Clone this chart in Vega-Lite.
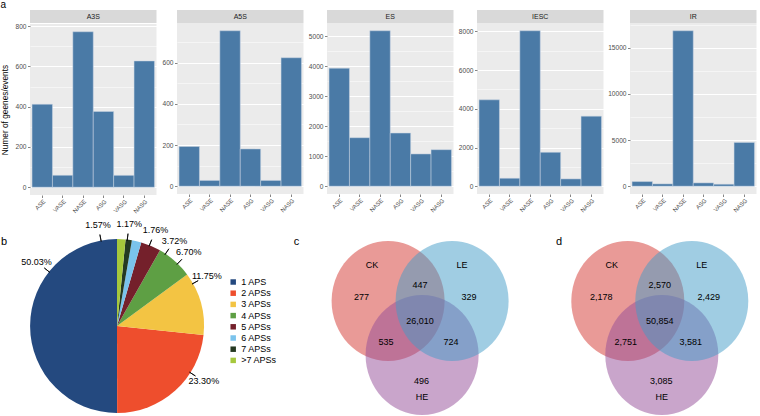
{
  "$schema": "https://vega.github.io/schema/vega-lite/v6.json",
  "padding": 0,
  "background": "white",
  "title": {"text": "a", "anchor": "start", "frame": "bounds", "fontSize": 10, "fontWeight": "normal", "color": "#000000", "offset": 0},
  "config": {
    "font": "Liberation Sans",
    "view": {"stroke": null},
    "axis": {"domain": false, "labelColor": "#4D4D4D", "tickColor": "#333333", "tickSize": 2.5, "tickWidth": 0.6, "labelFontSize": 6.6, "gridColor": "#FFFFFF", "labelPadding": 1.5, "titleFontWeight": "normal", "titleColor": "#000000"}
  },
  "resolve": {"scale": {"color": "independent"}, "legend": {"color": "independent"}},
  "datasets": {
    "bars": [
      {"panel": "A3S", "type": "ASE", "count": 412},
      {"panel": "A3S", "type": "VASE", "count": 59},
      {"panel": "A3S", "type": "NASE", "count": 772},
      {"panel": "A3S", "type": "ASG", "count": 376},
      {"panel": "A3S", "type": "VASG", "count": 59},
      {"panel": "A3S", "type": "NASG", "count": 627},
      {"panel": "A5S", "type": "ASE", "count": 193},
      {"panel": "A5S", "type": "VASE", "count": 28},
      {"panel": "A5S", "type": "NASE", "count": 755},
      {"panel": "A5S", "type": "ASG", "count": 181},
      {"panel": "A5S", "type": "VASG", "count": 28},
      {"panel": "A5S", "type": "NASG", "count": 624},
      {"panel": "ES", "type": "ASE", "count": 3929},
      {"panel": "ES", "type": "VASE", "count": 1616},
      {"panel": "ES", "type": "NASE", "count": 5177},
      {"panel": "ES", "type": "ASG", "count": 1771},
      {"panel": "ES", "type": "VASG", "count": 1075},
      {"panel": "ES", "type": "NASG", "count": 1217},
      {"panel": "IESC", "type": "ASE", "count": 4464},
      {"panel": "IESC", "type": "VASE", "count": 412},
      {"panel": "IESC", "type": "NASE", "count": 8033},
      {"panel": "IESC", "type": "ASG", "count": 1751},
      {"panel": "IESC", "type": "VASG", "count": 378},
      {"panel": "IESC", "type": "NASG", "count": 3621},
      {"panel": "IR", "type": "ASE", "count": 504},
      {"panel": "IR", "type": "VASE", "count": 252},
      {"panel": "IR", "type": "NASE", "count": 16835},
      {"panel": "IR", "type": "ASG", "count": 360},
      {"panel": "IR", "type": "VASG", "count": 216},
      {"panel": "IR", "type": "NASG", "count": 4748}
    ],
    "pie": [
      {"label": "1 APS", "value": 50.03, "pct": "50.03%", "la": 308.6},
      {"label": "2 APSs", "value": 23.30, "pct": "23.30%", "la": 122.5},
      {"label": "3 APSs", "value": 11.75, "pct": "11.75%", "la": 60.8},
      {"label": "4 APSs", "value": 6.70, "pct": "6.70%", "la": 44.2},
      {"label": "5 APSs", "value": 3.72, "pct": "3.72%", "la": 33.9},
      {"label": "6 APSs", "value": 1.76, "pct": "1.76%", "la": 21.9},
      {"label": "7 APSs", "value": 1.17, "pct": "1.17%", "la": 6.8},
      {"label": ">7 APSs", "value": 1.57, "pct": "1.57%", "la": 349.4}
    ],
    "vennCircles": [
      {"set": "CK", "cx": 148.4, "cy": 65},
      {"set": "HE", "cx": 182.4, "cy": 119},
      {"set": "LE", "cx": 212.4, "cy": 65}
    ],
    "vennC": [
      {"label": "CK", "x": 132.4, "y": 29},
      {"label": "LE", "x": 222.4, "y": 29},
      {"label": "HE", "x": 182.4, "y": 161},
      {"label": "277", "x": 121.9, "y": 61.3},
      {"label": "447", "x": 180.4, "y": 49},
      {"label": "329", "x": 229.4, "y": 61.3},
      {"label": "26,010", "x": 180.4, "y": 85},
      {"label": "535", "x": 146.4, "y": 106.3},
      {"label": "724", "x": 211.4, "y": 106.3},
      {"label": "496", "x": 181.9, "y": 144.6}
    ],
    "vennD": [
      {"label": "CK", "x": 132.4, "y": 29},
      {"label": "LE", "x": 222.4, "y": 29},
      {"label": "HE", "x": 182.4, "y": 161},
      {"label": "2,178", "x": 121.9, "y": 61.3},
      {"label": "2,570", "x": 180.4, "y": 49},
      {"label": "2,429", "x": 229.4, "y": 61.3},
      {"label": "50,854", "x": 180.4, "y": 85},
      {"label": "2,751", "x": 146.4, "y": 106.3},
      {"label": "3,581", "x": 211.4, "y": 106.3},
      {"label": "3,085", "x": 181.9, "y": 144.6}
    ]
  },
  "vconcat": [
    {
      "spacing": 0,
      "hconcat": [
        {
          "spacing": 0,
          "vconcat": [
            {"width": 126.5, "height": 13, "view": {"fill": "#D9D9D9", "stroke": null}, "data": {"values": [{"panel": "A3S"}]}, "mark": {"type": "text", "fontSize": 7, "color": "#1A1A1A"}, "encoding": {"text": {"field": "panel"}}},
            {"width": 126.5, "height": 171, "view": {"fill": "#EBEBEB", "stroke": null}, "data": {"name": "bars"}, "transform": [{"filter": "datum.panel === 'A3S'"}],
             "mark": {"type": "bar", "color": "#4A7AA6", "stroke": "#C9D5E2", "strokeWidth": 0.5},
             "encoding": {
               "x": {"field": "type", "type": "nominal", "sort": ["ASE", "VASE", "NASE", "ASG", "VASG", "NASG"], "scale": {"paddingInner": 0, "paddingOuter": 0.1}, "axis": {"title": null, "labelAngle": -45, "labelAlign": "right", "labelBaseline": "top", "bandPosition": 0.5, "gridWidth": 1.1, "labelFontSize": 5.9, "labelPadding": 0.5}},
               "y": {"field": "count", "type": "quantitative", "scale": {"domain": [-38.6, 810.6], "nice": false, "zero": false}, "axis": {"title": "Numer of geenes/events", "titleFontSize": 8.3, "titlePadding": 3, "format": "d", "values": [0, 100, 200, 300, 400, 500, 600, 700, 800], "labelExpr": "datum.value % 200 === 0 ? datum.label : ''", "gridWidth": {"condition": {"test": "datum.value % 200 === 0", "value": 1.1}, "value": 0.5}, "tickOpacity": {"condition": {"test": "datum.value % 200 === 0", "value": 1}, "value": 0}, "minExtent": 17.5, "maxExtent": 17.5}}
             }}
          ]
        },
        {
          "spacing": 0,
          "vconcat": [
            {"width": 126.5, "height": 13, "view": {"fill": "#D9D9D9", "stroke": null}, "data": {"values": [{"panel": "A5S"}]}, "mark": {"type": "text", "fontSize": 7, "color": "#1A1A1A"}, "encoding": {"text": {"field": "panel"}}},
            {"width": 126.5, "height": 171, "view": {"fill": "#EBEBEB", "stroke": null}, "data": {"name": "bars"}, "transform": [{"filter": "datum.panel === 'A5S'"}],
             "mark": {"type": "bar", "color": "#4A7AA6", "stroke": "#C9D5E2", "strokeWidth": 0.5},
             "encoding": {
               "x": {"field": "type", "type": "nominal", "sort": ["ASE", "VASE", "NASE", "ASG", "VASG", "NASG"], "scale": {"paddingInner": 0, "paddingOuter": 0.1}, "axis": {"title": null, "labelAngle": -45, "labelAlign": "right", "labelBaseline": "top", "bandPosition": 0.5, "gridWidth": 1.1, "labelFontSize": 5.9, "labelPadding": 0.5}},
               "y": {"field": "count", "type": "quantitative", "scale": {"domain": [-37.75, 792.75], "nice": false, "zero": false}, "axis": {"title": null, "format": "d", "values": [0, 100, 200, 300, 400, 500, 600, 700], "labelExpr": "datum.value % 200 === 0 ? datum.label : ''", "gridWidth": {"condition": {"test": "datum.value % 200 === 0", "value": 1.1}, "value": 0.5}, "tickOpacity": {"condition": {"test": "datum.value % 200 === 0", "value": 1}, "value": 0}, "minExtent": 19.5, "maxExtent": 19.5}}
             }}
          ]
        },
        {
          "spacing": 0,
          "vconcat": [
            {"width": 126.5, "height": 13, "view": {"fill": "#D9D9D9", "stroke": null}, "data": {"values": [{"panel": "ES"}]}, "mark": {"type": "text", "fontSize": 7, "color": "#1A1A1A"}, "encoding": {"text": {"field": "panel"}}},
            {"width": 126.5, "height": 171, "view": {"fill": "#EBEBEB", "stroke": null}, "data": {"name": "bars"}, "transform": [{"filter": "datum.panel === 'ES'"}],
             "mark": {"type": "bar", "color": "#4A7AA6", "stroke": "#C9D5E2", "strokeWidth": 0.5},
             "encoding": {
               "x": {"field": "type", "type": "nominal", "sort": ["ASE", "VASE", "NASE", "ASG", "VASG", "NASG"], "scale": {"paddingInner": 0, "paddingOuter": 0.1}, "axis": {"title": null, "labelAngle": -45, "labelAlign": "right", "labelBaseline": "top", "bandPosition": 0.5, "gridWidth": 1.1, "labelFontSize": 5.9, "labelPadding": 0.5}},
               "y": {"field": "count", "type": "quantitative", "scale": {"domain": [-258.85, 5435.85], "nice": false, "zero": false}, "axis": {"title": null, "format": "d", "values": [0, 500, 1000, 1500, 2000, 2500, 3000, 3500, 4000, 4500, 5000], "labelExpr": "datum.value % 1000 === 0 ? datum.label : ''", "gridWidth": {"condition": {"test": "datum.value % 1000 === 0", "value": 1.1}, "value": 0.5}, "tickOpacity": {"condition": {"test": "datum.value % 1000 === 0", "value": 1}, "value": 0}, "minExtent": 23, "maxExtent": 23}}
             }}
          ]
        },
        {
          "spacing": 0,
          "vconcat": [
            {"width": 126.5, "height": 13, "view": {"fill": "#D9D9D9", "stroke": null}, "data": {"values": [{"panel": "IESC"}]}, "mark": {"type": "text", "fontSize": 7, "color": "#1A1A1A"}, "encoding": {"text": {"field": "panel"}}},
            {"width": 126.5, "height": 171, "view": {"fill": "#EBEBEB", "stroke": null}, "data": {"name": "bars"}, "transform": [{"filter": "datum.panel === 'IESC'"}],
             "mark": {"type": "bar", "color": "#4A7AA6", "stroke": "#C9D5E2", "strokeWidth": 0.5},
             "encoding": {
               "x": {"field": "type", "type": "nominal", "sort": ["ASE", "VASE", "NASE", "ASG", "VASG", "NASG"], "scale": {"paddingInner": 0, "paddingOuter": 0.1}, "axis": {"title": null, "labelAngle": -45, "labelAlign": "right", "labelBaseline": "top", "bandPosition": 0.5, "gridWidth": 1.1, "labelFontSize": 5.9, "labelPadding": 0.5}},
               "y": {"field": "count", "type": "quantitative", "scale": {"domain": [-401.65, 8434.65], "nice": false, "zero": false}, "axis": {"title": null, "format": "d", "values": [0, 1000, 2000, 3000, 4000, 5000, 6000, 7000, 8000], "labelExpr": "datum.value % 2000 === 0 ? datum.label : ''", "gridWidth": {"condition": {"test": "datum.value % 2000 === 0", "value": 1.1}, "value": 0.5}, "tickOpacity": {"condition": {"test": "datum.value % 2000 === 0", "value": 1}, "value": 0}, "minExtent": 23, "maxExtent": 23}}
             }}
          ]
        },
        {
          "spacing": 0,
          "vconcat": [
            {"width": 126.5, "height": 13, "view": {"fill": "#D9D9D9", "stroke": null}, "data": {"values": [{"panel": "IR"}]}, "mark": {"type": "text", "fontSize": 7, "color": "#1A1A1A"}, "encoding": {"text": {"field": "panel"}}},
            {"width": 126.5, "height": 171, "view": {"fill": "#EBEBEB", "stroke": null}, "data": {"name": "bars"}, "transform": [{"filter": "datum.panel === 'IR'"}],
             "mark": {"type": "bar", "color": "#4A7AA6", "stroke": "#C9D5E2", "strokeWidth": 0.5},
             "encoding": {
               "x": {"field": "type", "type": "nominal", "sort": ["ASE", "VASE", "NASE", "ASG", "VASG", "NASG"], "scale": {"paddingInner": 0, "paddingOuter": 0.1}, "axis": {"title": null, "labelAngle": -45, "labelAlign": "right", "labelBaseline": "top", "bandPosition": 0.5, "gridWidth": 1.1, "labelFontSize": 5.9, "labelPadding": 0.5}},
               "y": {"field": "count", "type": "quantitative", "scale": {"domain": [-841.75, 17676.75], "nice": false, "zero": false}, "axis": {"title": null, "format": "d", "values": [0, 2500, 5000, 7500, 10000, 12500, 15000, 17500], "labelExpr": "datum.value % 5000 === 0 ? datum.label : ''", "gridWidth": {"condition": {"test": "datum.value % 5000 === 0", "value": 1.1}, "value": 0.5}, "tickOpacity": {"condition": {"test": "datum.value % 5000 === 0", "value": 1}, "value": 0}, "minExtent": 25.5, "maxExtent": 25.5}}
             }}
          ]
        }
      ]
    },
    {
      "spacing": 35.7,
      "bounds": "flush",
      "resolve": {"scale": {"color": "independent"}, "legend": {"color": "independent"}},
      "hconcat": [
        {
          "width": 174, "height": 180, "view": {"stroke": null},
          "layer": [
            {"data": {"name": "pie"},
             "mark": {"type": "arc", "outerRadius": 87},
             "encoding": {
               "theta": {"field": "value", "type": "quantitative", "stack": true},
               "order": {"field": "label", "type": "ordinal", "sort": "descending"},
               "color": {"field": "label", "type": "nominal",
                 "scale": {"domain": ["1 APS", "2 APSs", "3 APSs", "4 APSs", "5 APSs", "6 APSs", "7 APSs", ">7 APSs"], "range": ["#24497F", "#EE4E2D", "#F3C443", "#5E9F44", "#74202B", "#7AC3EC", "#253922", "#A6C83C"]},
                 "legend": {"orient": "none", "legendX": 198.7, "legendY": 41.5, "title": null, "symbolType": "square", "symbolSize": 30, "symbolStrokeWidth": 0, "labelFontSize": 9, "labelColor": "#000000", "rowPadding": 1.2, "labelOffset": 3.5}}
             }},
            {"data": {"name": "pie"},
             "mark": {"type": "arc", "innerRadius": 86, "outerRadius": 93, "filled": false, "color": "#000000", "strokeWidth": 0.8},
             "encoding": {
               "theta": {"field": "la", "type": "quantitative", "stack": false, "scale": {"domain": [0, 360], "range": [0, 6.283185]}},
               "theta2": {"field": "la"}
             }},
            {"data": {"name": "pie"},
             "mark": {"type": "text", "radius": 103, "fontSize": 9, "color": "#000000"},
             "encoding": {
               "theta": {"field": "la", "type": "quantitative", "stack": false, "scale": {"domain": [0, 360], "range": [0, 6.283185]}},
               "text": {"field": "pct"}
             }},
            {"data": {"values": [{"letter": "b"}]},
             "mark": {"type": "text", "fontSize": 11, "color": "#000000", "align": "left", "baseline": "alphabetic"},
             "encoding": {
               "x": {"datum": -29, "type": "quantitative", "scale": {"domain": [0, 174], "nice": false, "zero": false}, "axis": null},
               "y": {"datum": 9, "type": "quantitative", "scale": {"domain": [0, 180], "reverse": true, "nice": false, "zero": false}, "axis": null},
               "text": {"field": "letter"}
             }}
          ],
          "resolve": {"scale": {"theta": "independent"}}
        },
        {
          "width": 203.8, "height": 180, "view": {"stroke": null},
          "layer": [
            {"data": {"name": "vennCircles"},
             "mark": {"type": "point", "filled": true, "opacity": 0.5, "strokeWidth": 0, "size": 12769, "shape": "M1,0C1,0.5865,0.5523,1.062,0,1.062C-0.5523,1.062,-1,0.5865,-1,0C-1,-0.5865,-0.5523,-1.062,0,-1.062C0.5523,-1.062,1,-0.5865,1,0Z"},
             "encoding": {
               "x": {"field": "cx", "type": "quantitative", "scale": {"domain": [0, 203.8], "nice": false, "zero": false}, "axis": null},
               "y": {"field": "cy", "type": "quantitative", "scale": {"domain": [0, 180], "reverse": true, "nice": false, "zero": false}, "axis": null},
               "color": {"field": "set", "type": "nominal", "scale": {"domain": ["CK", "HE", "LE"], "range": ["#D3352F", "#934B97", "#419BC7"]}, "legend": null}
             }},
            {"data": {"name": "vennC"},
             "mark": {"type": "text", "fontSize": 9, "color": "#000000"},
             "encoding": {
               "x": {"field": "x", "type": "quantitative"},
               "y": {"field": "y", "type": "quantitative"},
               "text": {"field": "label"}
             }},
            {"data": {"values": [{"letter": "c"}]},
             "mark": {"type": "text", "fontSize": 11, "color": "#000000", "align": "left", "baseline": "alphabetic"},
             "encoding": {
               "x": {"datum": 54, "type": "quantitative"},
               "y": {"datum": 9, "type": "quantitative"},
               "text": {"field": "letter"}
             }}
          ]
        },
        {
          "width": 281.5, "height": 180, "view": {"stroke": null},
          "layer": [
            {"data": {"name": "vennCircles"},
             "mark": {"type": "point", "filled": true, "opacity": 0.5, "strokeWidth": 0, "size": 12769, "shape": "M1,0C1,0.5865,0.5523,1.062,0,1.062C-0.5523,1.062,-1,0.5865,-1,0C-1,-0.5865,-0.5523,-1.062,0,-1.062C0.5523,-1.062,1,-0.5865,1,0Z"},
             "encoding": {
               "x": {"field": "cx", "type": "quantitative", "scale": {"domain": [0, 281.5], "nice": false, "zero": false}, "axis": null},
               "y": {"field": "cy", "type": "quantitative", "scale": {"domain": [0, 180], "reverse": true, "nice": false, "zero": false}, "axis": null},
               "color": {"field": "set", "type": "nominal", "scale": {"domain": ["CK", "HE", "LE"], "range": ["#D3352F", "#934B97", "#419BC7"]}, "legend": null}
             }},
            {"data": {"name": "vennD"},
             "mark": {"type": "text", "fontSize": 9, "color": "#000000"},
             "encoding": {
               "x": {"field": "x", "type": "quantitative"},
               "y": {"field": "y", "type": "quantitative"},
               "text": {"field": "label"}
             }},
            {"data": {"values": [{"letter": "d"}]},
             "mark": {"type": "text", "fontSize": 11, "color": "#000000", "align": "left", "baseline": "alphabetic"},
             "encoding": {
               "x": {"datum": 76.5, "type": "quantitative"},
               "y": {"datum": 9, "type": "quantitative"},
               "text": {"field": "letter"}
             }}
          ]
        }
      ]
    }
  ],
  "spacing": 5
}
